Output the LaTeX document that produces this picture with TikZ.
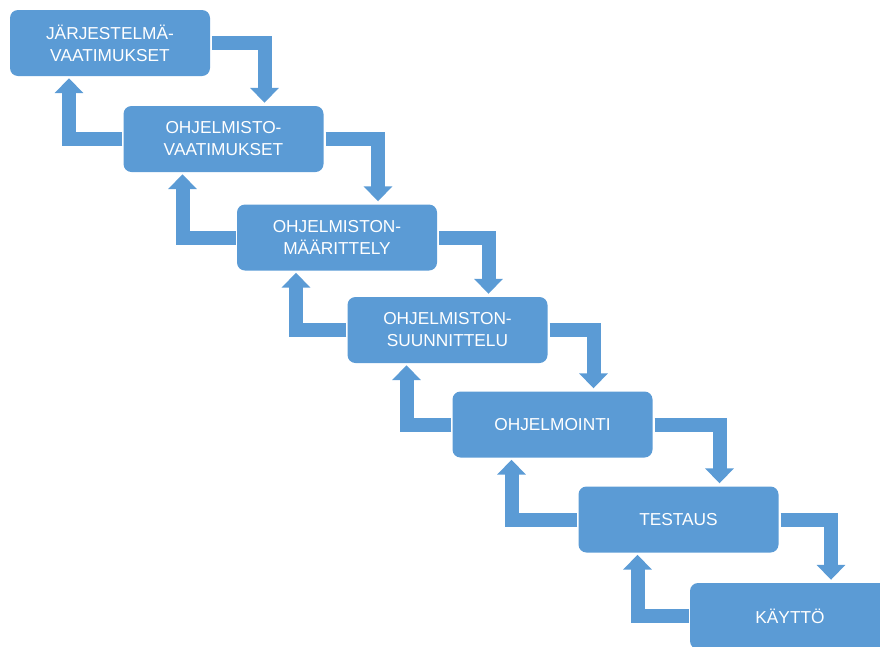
\documentclass[tikz,border=0pt]{standalone}
\usepackage{fontspec}
\setmainfont{Liberation Sans}
\usepackage{tikz}
\usetikzlibrary{arrows.meta}
\definecolor{vesi}{RGB}{91,155,213}

\begin{document}
\begin{tikzpicture}[
    x=1pt, y=-1pt,
    every node/.style={
    fill=vesi, text=white, rounded corners=8pt,
    minimum width=200pt, minimum height=66pt, inner sep=0pt,
    align=center, font=\fontsize{17.3pt}{22pt}\selectfont},
    alas/.style={draw=vesi, line width=14pt, line join=miter,
    -{Triangle[width=28pt,length=15pt]}},
    ylos/.style={alas}
    ]
    \useasboundingbox (0,0) rectangle (880,646);

    \node(jarj) at (110,43){JÄRJESTELMÄ-\\VAATIMUKSET};
    \node(ohjv) at (223.5,139){OHJELMISTO-\\VAATIMUKSET};
    \node(maar) at (337,237.5){OHJELMISTON-\\MÄÄRITTELY};
    \node(suun) at (447.5,330){OHJELMISTON-\\SUUNNITTELU};
    \node(ohjm) at (552.5,424.5){OHJELMOINTI};
    \node(test) at (678.5,519.5){TESTAUS};
    \node(kayt) at (790,616){KÄYTTÖ};

    \draw[alas] ([xshift=2pt]jarj.east) -| ([xshift=41pt,yshift=3pt]ohjv.north);
    \draw[alas] ([xshift=2pt]ohjv.east) -| ([xshift=41pt,yshift=3pt]maar.north);
    \draw[alas] ([xshift=2pt]maar.east) -| ([xshift=41pt,yshift=3pt]suun.north);
    \draw[alas] ([xshift=2pt]suun.east) -| ([xshift=41pt,yshift=3pt]ohjm.north);
    \draw[alas] ([xshift=2pt]ohjm.east) -| ([xshift=41pt,yshift=3pt]test.north);
    \draw[alas] ([xshift=2pt]test.east) -| ([xshift=41pt,yshift=3pt]kayt.north);

    \draw[ylos] ([xshift=-1pt]ohjv.west) -| ([xshift=-41pt,yshift=-2pt]jarj.south);
    \draw[ylos] ([xshift=-1pt]maar.west) -| ([xshift=-41pt,yshift=-2pt]ohjv.south);
    \draw[ylos] ([xshift=-1pt]suun.west) -| ([xshift=-41pt,yshift=-2pt]maar.south);
    \draw[ylos] ([xshift=-1pt]ohjm.west) -| ([xshift=-41pt,yshift=-2pt]suun.south);
    \draw[ylos] ([xshift=-1pt]test.west) -| ([xshift=-41pt,yshift=-2pt]ohjm.south);
    \draw[ylos] ([xshift=-1pt]kayt.west) -| ([xshift=-41pt,yshift=-2pt]test.south);
\end{tikzpicture}
\end{document}
